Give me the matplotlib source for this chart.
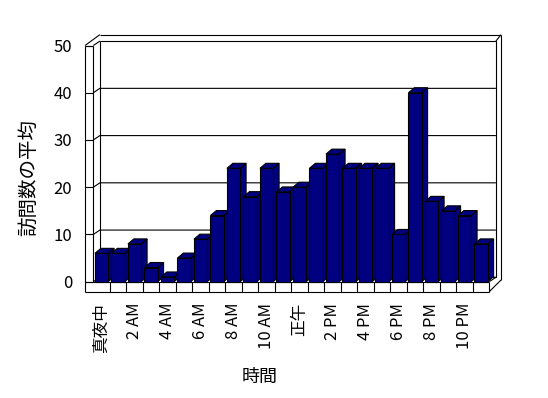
import numpy as np
import matplotlib.pyplot as plt
from matplotlib.patches import Polygon

plt.rcParams['font.family'] = ['Noto Sans CJK JP', 'DejaVu Sans']

# data
hours = ['真夜中', '1 AM', '2 AM', '3 AM', '4 AM', '5 AM', '6 AM', '7 AM',
         '8 AM', '9 AM', '10 AM', '11 AM', '正午', '1 PM', '2 PM', '3 PM',
         '4 PM', '5 PM', '6 PM', '7 PM', '8 PM', '9 PM', '10 PM', '11 PM']
visits = [6, 6, 8, 3, 1, 5, 9, 14, 24, 18, 24, 19, 20, 24, 27, 24, 24, 24,
          10, 40, 17, 15, 14, 8]
y_ticks = [0, 10, 20, 30, 40, 50]

NAVY = '#000080'
LW = 0.8

fig = plt.figure(figsize=(5.48, 3.98), dpi=100)
ax = fig.add_axes([93.3 / 548, (398 - 281.7) / 398, 396 / 548, 236.2 / 398])
n = len(visits)
ymax = y_ticks[-1]
ax.set_xlim(0, n)
ax.set_ylim(0, ymax)
for s in ax.spines.values():
    s.set_visible(False)

# depth offsets (data units) for walls and bars
wx, wy = 0.4, 0.93
bx, by = 0.36, 1.06
thick_x = 0.5      # left wall thickness
floor_t = 2.1      # floor thickness
top_out = 52.3
right_out = n + 0.71

def line(xs, ys, z=2):
    ax.plot(xs, ys, color='black', lw=LW, clip_on=False, zorder=z,
            solid_capstyle='butt')

# back wall
ax.add_patch(Polygon([(wx, wy), (n + wx, wy), (n + wx, ymax + wy), (wx, ymax + wy)],
                     closed=True, facecolor='white', edgecolor='black', lw=LW,
                     clip_on=False, zorder=0.5))
# gridlines on back wall and left wall
for v in y_ticks[:-1]:
    line([0, wx, n + wx], [v, v + wy, v + wy], z=1)
for v in y_ticks:
    line([-thick_x, 0], [v, v], z=1)

# left wall edges
line([-thick_x, -thick_x], [-floor_t, ymax])
line([0, 0], [0, ymax])
line([-thick_x, 0], [ymax, ymax])
line([0, wx], [ymax, ymax + wy])
line([-thick_x, wx], [ymax, top_out])
# top and right frame
line([wx, right_out], [top_out, top_out])
line([n + wx, right_out], [ymax + wy, top_out])
line([right_out, right_out], [top_out, 0.36])
line([n, right_out], [-floor_t, 0.36])
line([n, n + wx], [0, wy])

# floor front strip with category dividers
line([-thick_x, n], [-floor_t, -floor_t])
line([-thick_x, n], [0, 0], z=1.5)
for k in range(1, n + 1):
    line([k, k], [-floor_t, 0])

# bars: front faces through ax.bar, tops and sides from the same values
x0 = np.arange(n) + 0.1
w = 0.8
bars = ax.bar(x0, visits, width=w, align='edge', color=NAVY,
              edgecolor='black', linewidth=LW, clip_on=False)
for i, (x, v) in enumerate(zip(x0, visits)):
    z = 3 + 2 * i
    top = [(x, v), (x + w, v), (x + w + bx, v + by), (x + bx, v + by)]
    side = [(x + w, 0), (x + w + bx, by), (x + w + bx, v + by), (x + w, v)]
    for pts in (side, top):
        ax.add_patch(Polygon(pts, closed=True, facecolor=NAVY, edgecolor='black',
                             lw=LW, clip_on=False, zorder=z))
    bars.patches[i].set_zorder(z + 1)

# axes text
ax.set_yticks(y_ticks)
ax.set_yticklabels([str(t) for t in y_ticks], fontsize=12)
ax.set_xticks(np.arange(0, n, 2) + 0.5)
ax.set_xticklabels(hours[::2], rotation=90, fontsize=12)
ax.tick_params(axis='y', length=0, pad=15.3)
ax.tick_params(axis='x', length=0, pad=15.3)

ax.set_xlabel('時間', fontsize=13)
ax.xaxis.set_label_coords(0.421, -0.402)
ax.xaxis.label.set_va('center')
ax.set_ylabel('訪問数の平均', fontsize=14)
ax.yaxis.set_label_coords(-0.162, 0.443)
ax.yaxis.label.set_va('center')

fig.savefig('out.png', dpi=100)
